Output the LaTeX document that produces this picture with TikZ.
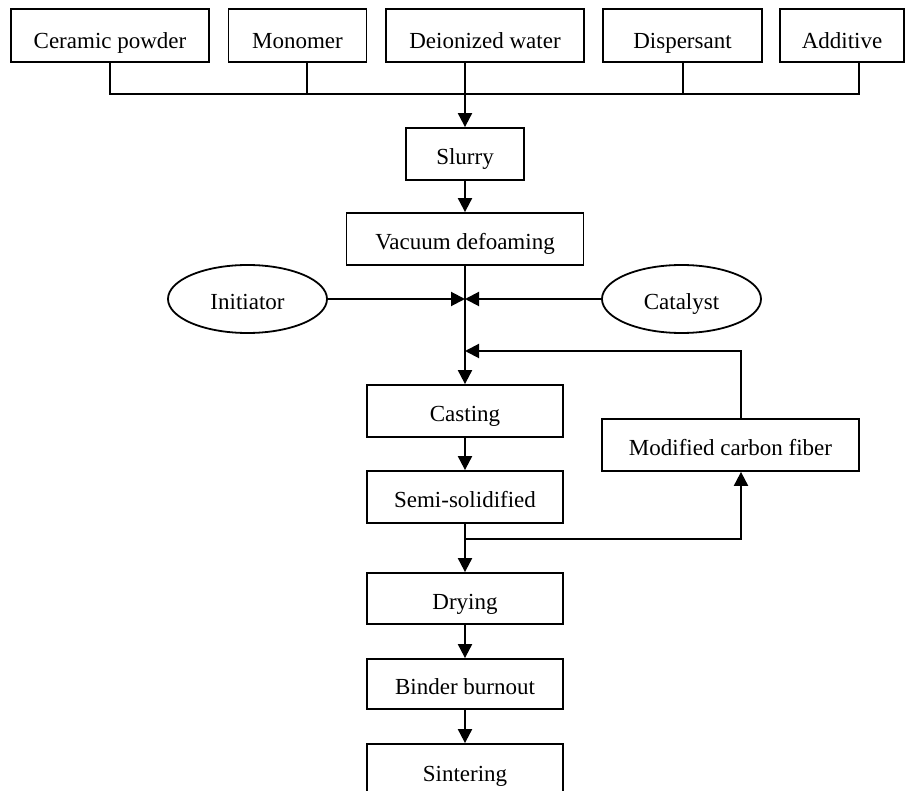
\documentclass[tikz,border=0pt]{standalone}
\usepackage{fontspec}
\setmainfont{Liberation Serif}
\usetikzlibrary{arrows.meta,shapes.geometric}
\begin{document}
\begin{tikzpicture}[x=1pt,y=1pt,
  box/.style={draw, line width=1.8pt, inner sep=0pt, minimum height=52pt, text height=22pt, text depth=0pt, font=\fontsize{23}{27}\selectfont},
  topbox/.style={box, minimum height=53pt, text height=26pt},
  oval/.style={draw, ellipse, line width=1.8pt, inner sep=0pt, minimum width=159pt, minimum height=68pt, text height=22pt, text depth=0pt, font=\fontsize{23}{27}\selectfont},
  conn/.style={line width=2pt},
  arr/.style={conn, -{Triangle[length=14pt,width=14pt]}}]
\useasboundingbox (0,0) rectangle (906,-791);
% top row
\node[topbox, minimum width=198pt] (cer) at (110,-35.5) {Ceramic powder};
\node[topbox, minimum width=138pt] (mon) at (297.5,-35.5) {Monomer};
\node[topbox, minimum width=198pt] (dei) at (485,-35.5) {Deionized water};
\node[topbox, minimum width=159pt] (dis) at (682.5,-35.5) {Dispersant};
\node[topbox, minimum width=124pt] (add) at (842,-35.5) {Additive};
% main column
\node[box, minimum width=118pt] (slu) at (465,-154) {Slurry};
\node[box, minimum width=237pt] (vac) at (465,-239) {Vacuum defoaming};
\node[oval] (ini) at (247.5,-299) {Initiator};
\node[oval] (cat) at (681.5,-299) {Catalyst};
\node[box, minimum width=196pt] (cas) at (465,-411) {Casting};
\node[box, minimum width=196pt] (sem) at (465,-497) {Semi-solidified};
\node[box, minimum width=257pt] (mcf) at (730.5,-445) {Modified carbon fiber};
\node[box, minimum width=196pt, minimum height=51pt] (dry) at (465,-598.5) {Drying};
\node[box, minimum width=196pt, minimum height=50pt] (bin) at (465,-684) {Binder burnout};
\node[box, minimum width=196pt] (sin) at (465,-770) {Sintering};
% bus
\coordinate (bus) at (0,-94);
\coordinate (fbtop) at (741,-351);
\coordinate (br) at (0,-539);
\draw[conn] (cer.south) |- ([xshift=17pt]add.south |- bus) -- ([xshift=17pt]add.south);
\draw[conn] ([xshift=9pt]mon.south) -- ([xshift=9pt]mon.south |- bus);
\draw[conn] (dis.south) -- (dis.south |- bus);
\draw[arr] ([xshift=-20pt]dei.south) -- (slu.north);
\draw[arr] (slu.south) -- (vac.north);
\draw[arr] (vac.south) -- (cas.north);
\draw[arr] (ini.east) -- (ini.east -| vac.south);
\draw[arr] (cat.west) -- (cat.west -| vac.south);
\draw[arr] ([xshift=10.5pt]mcf.north) -- (fbtop) -- (fbtop -| cas.north);
\draw[arr] (cas.south) -- (sem.north);
\draw[arr] (sem.south) -- (dry.north);
\draw[arr] (sem.south |- br) -| ([xshift=10.5pt]mcf.south);
\draw[arr] (dry.south) -- (bin.north);
\draw[arr] (bin.south) -- (sin.north);
\end{tikzpicture}
\end{document}
